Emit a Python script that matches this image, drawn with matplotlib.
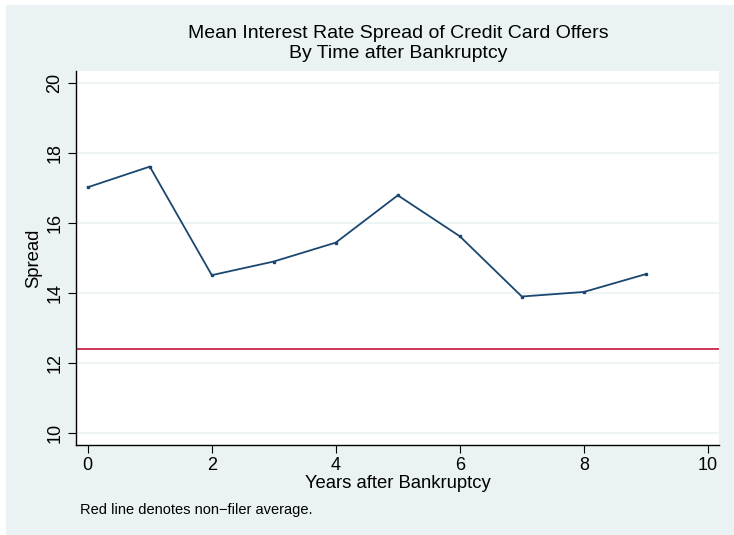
import matplotlib.pyplot as plt
from matplotlib.patches import Rectangle

plt.rcParams['font.family'] = ['Liberation Sans', 'DejaVu Sans']

# mean spread by years since filing
years = [0, 1, 2, 3, 4, 5, 6, 7, 8, 9]
spread = [17.01, 17.60, 14.50, 14.89, 15.43, 16.78, 15.61, 13.89, 14.02, 14.53]
nonfiler_avg = 12.40

x_ticks = [0, 2, 4, 6, 8, 10]
y_ticks = [10, 12, 14, 16, 18, 20]

bg = '#eaf2f3'
navy = '#1a476f'
red = '#c4143c'

fig = plt.figure(figsize=(7.34, 5.35), dpi=100)
fig.patch.set_facecolor('white')
fig.patches.append(Rectangle((6 / 734, 0), 1, 1 - 5 / 535, transform=fig.transFigure,
                             facecolor=bg, edgecolor='none', zorder=-10))

ax = fig.add_axes([76 / 734, 90 / 535, (719 - 76) / 734, (445 - 71) / 535])
ax.set_facecolor('white')

ax.plot(years, spread, color=navy, lw=1.3, marker='s', ms=1.5, mec=navy, mfc=navy, zorder=3)
ax.axhline(nonfiler_avg, color=red, lw=1.2, zorder=2)

ax.set_xlim(-0.19, 10.18)
ax.set_ylim(9.65, 20.33)
ax.set_xticks(x_ticks)
ax.set_yticks(y_ticks)
ax.yaxis.grid(True, color=bg, lw=1.2)
ax.set_axisbelow(True)

for side in ['top', 'right']:
    ax.spines[side].set_visible(False)
for side in ['left', 'bottom']:
    ax.spines[side].set_linewidth(1.0)
    ax.spines[side].set_color('black')

ax.tick_params(axis='both', direction='out', length=6, width=0.8, labelsize=13, pad=3)
for lab in ax.get_yticklabels():
    lab.set_rotation(90)
    lab.set_va('center')

ax.set_xlabel('Years after Bankruptcy', fontsize=13.3, labelpad=0)
ax.set_ylabel('Spread', fontsize=13.3, labelpad=3)

title_x = (180 + 616) / 2 / 734
fig.text(title_x, 1 - 34 / 535, 'Mean Interest Rate Spread of Credit Card Offers',
         ha='center', va='center', fontsize=14)
fig.text(title_x, 1 - 54 / 535, 'By Time after Bankruptcy',
         ha='center', va='center', fontsize=14)
fig.text(80 / 734, 1 - 510 / 535, 'Red line denotes non\u2212filer average.',
         ha='left', va='center', fontsize=10.5)

fig.savefig('out.png', dpi=100, facecolor=fig.get_facecolor())
